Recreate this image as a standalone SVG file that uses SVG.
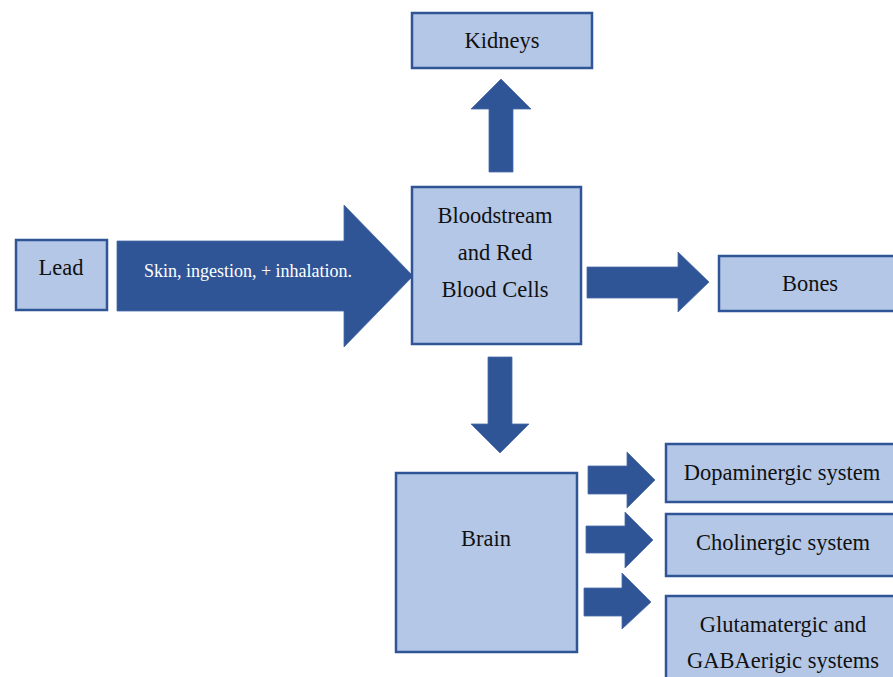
<svg xmlns="http://www.w3.org/2000/svg" width="893" height="677" viewBox="0 0 893 677">
<style>
.box{fill:#B4C7E7;stroke:#2F5597;stroke-width:2.5}
.arr{fill:#2F5597;stroke:#4A6BA8;stroke-width:0.8}
text{font-family:"Liberation Serif","Times New Roman",serif;font-size:22.5px;fill:#111;text-anchor:middle}
.w{fill:#fff;font-size:18px}
</style>
<rect width="893" height="677" fill="#fff"/>
<g id="connectors">
<path class="arr" d="M117,241 H344 V205 L413,276 L344,347 V311 H117 Z"/>
<path class="arr" d="M489,172 V109 H471 L501,79 L531,109 H513 V172 Z"/>
<path class="arr" d="M587,267 H678 V252 L709,282 L678,312 V298 H587 Z"/>
<path class="arr" d="M488,357 H512 V424 H529 L500,453 L471,424 H488 Z"/>
<path class="arr" d="M588,466 H627 V452 L655,480 L627,508 V494 H588 Z"/>
<path class="arr" d="M586,526 H625 V512 L653,540 L625,568 V553 H586 Z"/>
<path class="arr" d="M584,588 H622 V573 L651,602 L622,629 V616 H584 Z"/>
<text class="w" x="248" y="277">Skin, ingestion, + inhalation.</text>
</g>
<g id="lead"><rect class="box" x="16" y="240" width="91" height="70"/><text x="61" y="275">Lead</text></g>
<g id="kidneys"><rect class="box" x="412" y="13" width="180" height="55"/><text x="502" y="48">Kidneys</text></g>
<g id="bloodstream"><rect class="box" x="412" y="187" width="169" height="157"/>
<text x="495" y="223">Bloodstream</text><text x="495" y="260">and Red</text><text x="495" y="297">Blood Cells</text></g>
<g id="bones"><rect class="box" x="719" y="256" width="190" height="55"/><text x="810" y="291">Bones</text></g>
<g id="brain"><rect class="box" x="396" y="473" width="181" height="179"/><text x="486" y="546">Brain</text></g>
<g id="dopaminergic"><rect class="box" x="666" y="444" width="240" height="58"/><text x="782" y="480">Dopaminergic system</text></g>
<g id="cholinergic"><rect class="box" x="666" y="514" width="240" height="62"/><text x="783" y="550">Cholinergic system</text></g>
<g id="glutamatergic"><rect class="box" x="666" y="596" width="240" height="100"/><text x="783" y="632">Glutamatergic and</text><text x="783" y="668">GABAerigic systems</text></g>
</svg>
